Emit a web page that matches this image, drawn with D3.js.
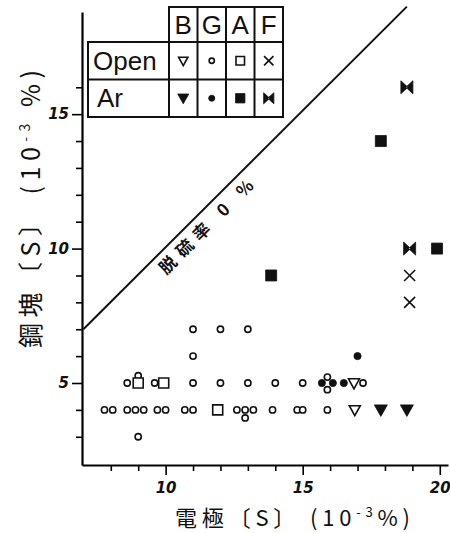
<!DOCTYPE html>
<html>
<head>
<meta charset="utf-8">
<script src="https://cdn.jsdelivr.net/npm/d3@7"></script>
<style>
  body { margin: 0; background: #fff; }
  svg { display: block; }
</style>
</head>
<body>
<svg id="chart"></svg>
<script>
/* data: [electrode S, ingot S] in 10^-3 % */
var bOpen = [[16.87, 5], [16.9, 4]];
var bAr = [[17.85, 4], [18.8, 4]];
var gOpen = [
    [11, 7], [12, 7], [13, 7], [11, 6],
    [8.6, 5], [9.0, 5.27], [9.6, 5], [11, 5], [12, 5], [13, 5], [14, 5], [15, 5],
    [15.9, 5.22], [15.9, 4.75], [17.2, 5],
    [7.77, 4], [8.07, 4], [8.6, 4], [8.9, 4], [9.2, 4], [9.7, 4], [10.0, 4],
    [10.7, 4], [11.0, 4], [12.6, 4], [12.9, 4], [12.9, 3.7], [13.2, 4], [13.9, 4],
    [14.8, 4], [15.0, 4], [15.9, 4],
    [9, 3]
];
var gAr = [[17, 6], [15.7, 5], [16.1, 5], [16.5, 5]];
var aOpen = [[9.0, 5], [9.93, 5], [11.9, 4]];
var aAr = [[13.85, 9], [17.85, 14], [19.9, 10]];
var fOpen = [[18.9, 9], [18.9, 8]];
var fAr = [[18.8, 16], [18.9, 10]];

var zeroLine = [[7, 7], [18.8, 19.0]];
var zeroLabelAt = [11.1, 11.2];

var groups = ["B", "G", "A", "F"];
var atmospheres = ["Open", "Ar"];

var xTicks = d3.range(8, 21);
var yTicks = d3.range(3, 17);
var xLabels = [10, 15, 20];
var yLabels = [5, 10, 15];

/* chart */
var width = 450, height = 533;
var svg = d3.select("#chart").attr("width", width).attr("height", height);

var x = d3.scaleLinear().domain([6.95, 20.3]).range([82, 448]);
var y = d3.scaleLinear().domain([1.95, 18.8]).range([465, 12]);

function shapePath(shape, filled, k) {
    var p = d3.path();
    if (shape == "tri") {
        var w = (filled ? 6.5 : 5.5) * k, t = (filled ? 5 : 4.2) * k, b = (filled ? 6.5 : 5.8) * k;
        p.moveTo(-w, -t); p.lineTo(w, -t); p.lineTo(0, b); p.closePath();
    } else if (shape == "circle") {
        var r = (filled ? 3.6 : 3.1) * k;
        p.arc(0, 0, r, 0, 2 * Math.PI);
    } else if (shape == "square") {
        var h = (filled ? 5.5 : 5) * k;
        p.rect(-h, -h, 2 * h, 2 * h);
    } else if (shape == "cross") {
        var c = 5.5 * k;
        p.moveTo(-c, -c); p.lineTo(c, c); p.moveTo(c, -c); p.lineTo(-c, c);
    } else if (shape == "bowtie") {
        var bw = 6 * k, bh = 6.5 * k;
        p.moveTo(-bw, -bh); p.lineTo(1, 0); p.lineTo(-bw, bh); p.closePath();
        p.moveTo(bw, -bh); p.lineTo(-1, 0); p.lineTo(bw, bh); p.closePath();
    }
    return p.toString();
}

var series = [
    { data: bOpen, shape: "tri", filled: false },
    { data: bAr, shape: "tri", filled: true },
    { data: gOpen, shape: "circle", filled: false },
    { data: gAr, shape: "circle", filled: true },
    { data: aOpen, shape: "square", filled: false },
    { data: aAr, shape: "square", filled: true },
    { data: fOpen, shape: "cross", filled: false },
    { data: fAr, shape: "bowtie", filled: true }
];

function styleMark(sel, s) {
    sel.attr("fill", s.filled ? "#111" : (s.shape == "cross" ? "none" : "#fff"))
       .attr("stroke", "#111")
       .attr("stroke-width", s.filled ? 0.8 : 1.6)
       .attr("stroke-linejoin", "miter");
}

/* axes */
var xAxis = svg.append("g")
    .attr("transform", `translate(0, ${y.range()[0]})`)
    .call(d3.axisBottom(x).tickValues(xTicks).tickSize(6).tickSizeOuter(0)
        .tickFormat(d => xLabels.includes(d) ? d : ""));
xAxis.selectAll(".tick line").attr("y2", d => xLabels.includes(d) ? 10 : 6).attr("stroke-width", 1.6);
xAxis.select(".domain").attr("stroke-width", 2.2);
xAxis.selectAll("text").attr("y", 17);

var yAxis = svg.append("g")
    .attr("transform", `translate(${x.range()[0]}, 0)`)
    .call(d3.axisLeft(y).tickValues(yTicks).tickSize(6).tickSizeOuter(0)
        .tickFormat(d => yLabels.includes(d) ? d : ""));
yAxis.selectAll(".tick line").attr("x2", d => yLabels.includes(d) ? -10 : -6).attr("stroke-width", 1.6);
yAxis.select(".domain").attr("stroke-width", 2.2);
yAxis.selectAll("text").attr("x", -13);

svg.selectAll(".tick text")
    .style("font-family", "DejaVu Sans")
    .style("font-weight", "bold")
    .style("font-style", "italic")
    .style("font-size", "15px")
    .attr("fill", "#111");

/* desulfurization 0 % line */
svg.append("path")
    .datum(zeroLine)
    .attr("d", d3.line().x(d => x(d[0])).y(d => y(d[1])))
    .attr("stroke", "#111")
    .attr("stroke-width", 2)
    .attr("fill", "none");

var ang = Math.atan2(y(zeroLine[1][1]) - y(zeroLine[0][1]), x(zeroLine[1][0]) - x(zeroLine[0][0])) * 180 / Math.PI;
svg.append("text")
    .attr("transform", `translate(${x(zeroLabelAt[0])}, ${y(zeroLabelAt[1])}) rotate(${ang})`)
    .attr("text-anchor", "middle")
    .attr("y", 15)
    .attr("dy", "0.35em")
    .attr("textLength", 125)
    .attr("lengthAdjust", "spacing")
    .style("font-family", "Noto Sans CJK JP")
    .style("font-weight", "bold")
    .style("font-size", "17px")
    .attr("fill", "#111")
    .text("脱硫率 0 %");

/* points */
series.forEach(function(s) {
    svg.append("g").selectAll("path")
        .data(s.data)
        .join("path")
        .attr("transform", d => `translate(${x(d[0])}, ${y(d[1])})`)
        .attr("d", shapePath(s.shape, s.filled, 1))
        .call(styleMark, s);
});

/* legend table */
var col = d3.scaleBand().domain(groups).range([169, 283]);
var row = d3.scaleBand().domain(atmospheres).range([42, 117]);
var leg = svg.append("g").attr("stroke", "#111").attr("stroke-width", 2);
leg.append("rect").attr("x", 88).attr("y", row.range()[0])
    .attr("width", col.range()[1] - 88).attr("height", row.range()[1] - row.range()[0])
    .attr("fill", "#fff");
leg.append("rect").attr("x", col.range()[0]).attr("y", 7)
    .attr("width", col.range()[1] - col.range()[0]).attr("height", row.range()[0] - 7)
    .attr("fill", "#fff");
leg.selectAll(".hl").data(atmospheres.slice(1)).join("line")
    .attr("x1", 88).attr("x2", col.range()[1])
    .attr("y1", d => row(d)).attr("y2", d => row(d));
leg.selectAll(".vl").data(groups).join("line")
    .attr("x1", d => col(d)).attr("x2", d => col(d))
    .attr("y1", 7).attr("y2", row.range()[1]);

var legText = svg.append("g")
    .style("font-family", "Liberation Sans")
    .style("font-size", "26px")
    .attr("fill", "#111");
legText.selectAll(".hd").data(groups).join("text")
    .attr("x", d => col(d) + col.bandwidth() / 2)
    .attr("y", 34)
    .attr("text-anchor", "middle")
    .text(d => d);
legText.selectAll(".rw").data(atmospheres).join("text")
    .attr("x", d => d == "Open" ? 93 : 97)
    .attr("y", d => row(d) + row.bandwidth() / 2 + 9)
    .text(d => d);

series.forEach(function(s, i) {
    var g = groups[Math.floor(i / 2)], a = atmospheres[i % 2];
    svg.append("path")
        .attr("transform", `translate(${col(g) + col.bandwidth() / 2}, ${row(a) + row.bandwidth() / 2})`)
        .attr("d", shapePath(s.shape, s.filled, 0.85))
        .call(styleMark, s);
});

/* axis titles */
var cjk = "Noto Sans CJK JP";
var xt = svg.append("text")
    .attr("x", 175).attr("y", 526)
    .attr("textLength", 235).attr("lengthAdjust", "spacing")
    .style("font-family", cjk).style("font-size", "22px")
    .attr("fill", "#111");
xt.append("tspan").text("電極〔S〕 (10");
xt.append("tspan").attr("dy", -9).style("font-size", "13px").text("-3");
xt.append("tspan").attr("dy", 9).text("%)");

var yt = svg.append("text")
    .attr("transform", "translate(40, 348) rotate(-90)")
    .attr("textLength", 278).attr("lengthAdjust", "spacing")
    .style("font-family", cjk).style("font-size", "25px")
    .attr("fill", "#111");
yt.append("tspan").text("鋼塊〔S〕 (10");
yt.append("tspan").attr("dy", -10).style("font-size", "14px").text("-3");
yt.append("tspan").attr("dy", 10).text(" %)");
</script>
</body>
</html>
